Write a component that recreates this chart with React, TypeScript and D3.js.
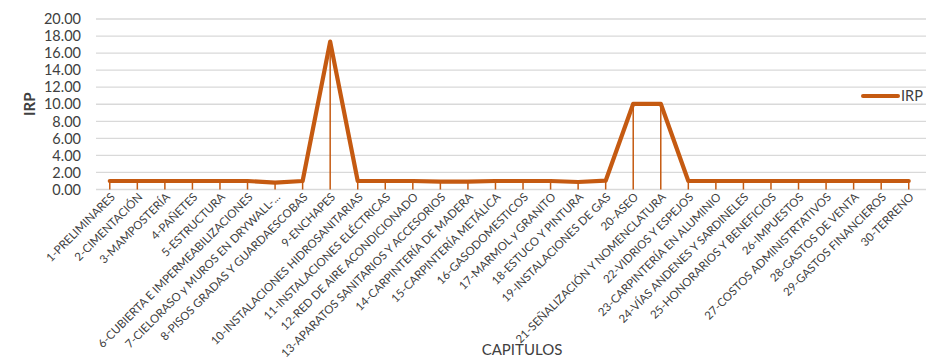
import React from "react";
import * as d3 from "d3";

const categories: string[] = [
  "1-PRELIMINARES",
  "2-CIMENTACIÓN",
  "3-MAMPOSTERÍA",
  "4-PAÑETES",
  "5-ESTRUCTURA",
  "6-CUBIERTA E IMPERMEABILIZACIONES",
  "7-CIELORASO y MUROS EN DRYWALL-...",
  "8-PISOS GRADAS Y GUARDAESCOBAS",
  "9-ENCHAPES",
  "10-INSTALACIONES HIDROSANITARIAS",
  "11-INSTALACIONES ELÉCTRICAS",
  "12-RED DE AIRE ACONDICIONADO",
  "13-APARATOS SANITARIOS Y ACCESORIOS",
  "14-CARPINTERÍA DE MADERA",
  "15-CARPINTERÍA METÁLICA",
  "16-GASODOMESTICOS",
  "17-MARMOL y GRANITO",
  "18-ESTUCO Y PINTURA",
  "19-INSTALACIONES DE GAS",
  "20-ASEO",
  "21-SEÑALIZACIÓN Y NOMENCLATURA",
  "22-VIDRIOS Y ESPEJOS",
  "23-CARPINTERÍA EN ALUMINIO",
  "24-VÍAS ANDENES Y SARDINELES",
  "25-HONORARIOS Y BENEFICIOS",
  "26-IMPUESTOS",
  "27-COSTOS ADMINISTRTATIVOS",
  "28-GASTOS DE VENTA",
  "29-GASTOS FINANCIEROS",
  "30-TERRENO",
];

const irpValues: number[] = [
  1.0, 1.0, 1.0, 1.0, 1.0, 1.0, 0.8, 1.0, 17.35, 1.0,
  1.0, 1.0, 0.92, 0.92, 1.0, 1.0, 1.0, 0.88, 1.03, 10.05,
  10.05, 1.0, 1.0, 1.0, 1.0, 1.0, 1.0, 1.0, 1.0, 1.0,
];

const yTicks: number[] = [0, 2, 4, 6, 8, 10, 12, 14, 16, 18, 20];

const seriesName = "IRP";
const yTitle = "IRP";
const xTitle = "CAPITULOS";

const W = 926;
const H = 358;
const COLOR = "#C55A11";
const FONT = "Lato, 'Open Sans', sans-serif";

export default function App() {
  const x = d3
    .scaleBand<number>()
    .domain(categories.map((_, i) => i))
    .range([96, 922.5])
    .padding(0);
  const px = (i: number) => (x(i) as number) + x.bandwidth() / 2;
  const y = d3.scaleLinear().domain([0, 20]).range([189.5, 19]);

  const line = d3
    .line<number>()
    .x((_, i) => px(i))
    .y((d) => y(d));

  return (
    <svg
      width={W}
      height={H}
      style={{ position: "absolute", left: 0, top: 0, background: "#fff" }}
      fontFamily={FONT}
    >
      {yTicks.map((t) => (
        <line
          key={"g" + t}
          x1={96}
          x2={926}
          y1={y(t)}
          y2={y(t)}
          stroke="#d9d9d9"
          strokeWidth={1.3}
        />
      ))}
      {yTicks.map((t) => (
        <text
          key={"yt" + t}
          x={81}
          y={y(t)}
          dy="0.36em"
          textAnchor="end"
          fontSize={14.5}
          fill="#404040"
        >
          {t.toFixed(2)}
        </text>
      ))}
      <text
        transform={`translate(35,${y(10)}) rotate(-90)`}
        textAnchor="middle"
        fontSize={15}
        fontWeight="bold"
        fill="#404040"
      >
        {yTitle}
      </text>
      {irpValues.map((v, i) => (
        <line
          key={"d" + i}
          x1={px(i)}
          x2={px(i)}
          y1={y(v)}
          y2={y(0)}
          stroke={COLOR}
          strokeWidth={1.5}
        />
      ))}
      <path
        d={line(irpValues) || ""}
        fill="none"
        stroke={COLOR}
        strokeWidth={4.2}
        strokeLinejoin="round"
        strokeLinecap="round"
      />
      {categories.map((c, i) => (
        <text
          key={"xl" + i}
          transform={`translate(${px(i) + 3},${195}) rotate(-45)`}
          textAnchor="end"
          dy="0.35em"
          fontSize={11.5}
          fill="#404040"
        >
          {c}
        </text>
      ))}
      <text x={522} y={355} textAnchor="middle" fontSize={15} fill="#404040">
        {xTitle}
      </text>
      <line x1={863} x2={898} y1={96} y2={96} stroke={COLOR} strokeWidth={4} strokeLinecap="round" />
      <text x={901} y={96} dy="0.36em" fontSize={14.5} fill="#404040">
        {seriesName}
      </text>
    </svg>
  );
}
